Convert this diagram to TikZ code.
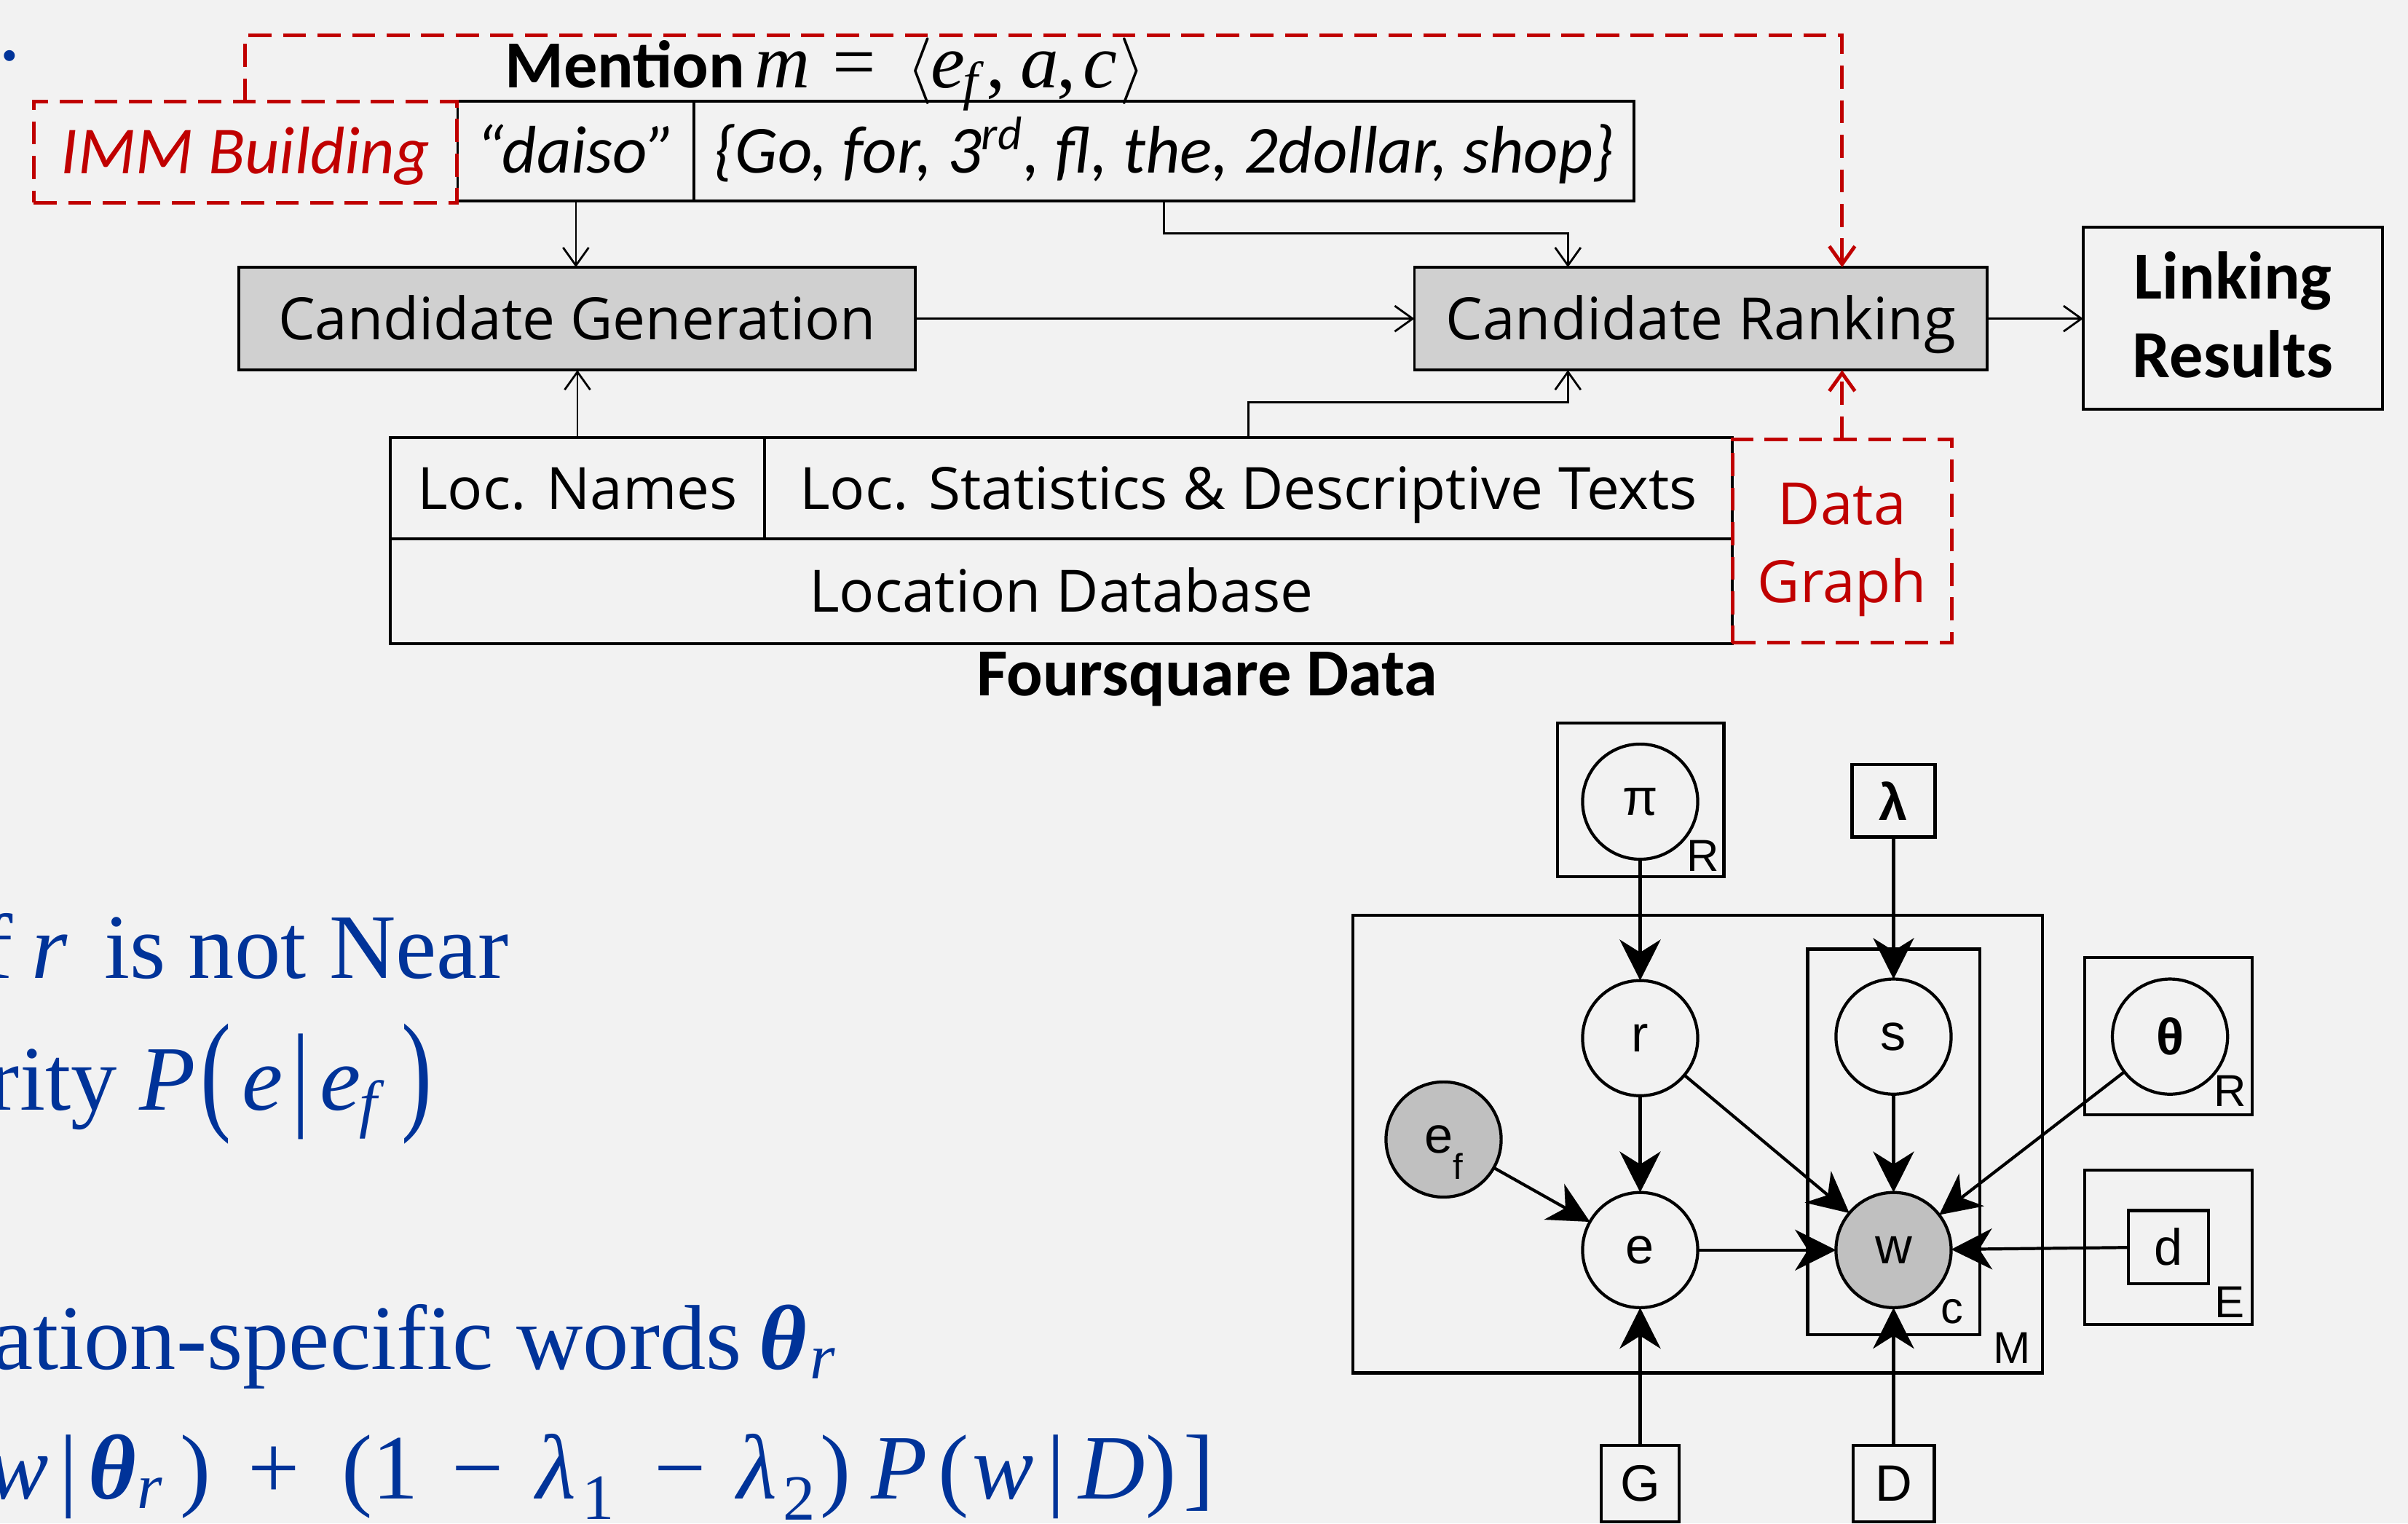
\documentclass[tikz,border=0pt]{standalone}
\usepackage{fontspec}
\usepackage{graphicx}
\usetikzlibrary{arrows.meta,calc}
\setmainfont{Liberation Serif}
\newfontfamily\opensans{Open Sans}
\newfontfamily\carlito{Carlito}
\newfontfamily\libserif{Liberation Serif}
\newfontfamily\libsans{Liberation Sans}
\definecolor{pagebg}{HTML}{F2F2F2}
\definecolor{darkred}{HTML}{C00000}
\definecolor{slideblue}{RGB}{0,51,153}
\definecolor{stagegray}{HTML}{D0D0D0}
\definecolor{obsgray}{HTML}{C0C0C0}
\newcommand\boxlabelfont{\opensans\fontsize{22.8}{27}\selectfont}
\newcommand\calibrifont{\carlito\fontsize{26.3}{30.8}\selectfont}
\newcommand\bluefont{\libserif\fontsize{36}{40}\selectfont}
\newcommand\gmfont{\libsans\fontsize{20}{22}\selectfont}
\newcommand\platefont{\libsans\fontsize{17.5}{18}\selectfont}
\newcommand\tallglyph[3]{\raisebox{#1}{\scalebox{1}[#2]{#3}}}
% place a piece of a formula at a fixed offset from the start of its line
\newcommand\putat[2]{\makebox[0pt][l]{\hspace*{#1}#2}}
\newcommand\bigangle[1]{\raisebox{-0.2pt}{\scalebox{2.6}{\normalsize$#1$}}}
\newcommand\lowsub[3]{\raisebox{#1}{\fontsize{#2}{#2}\selectfont #3}}
\begin{document}
\begin{tikzpicture}[x=0.021091cm, y=-0.021091cm,
  every node/.style={inner sep=0pt, outer sep=0pt},
  flowbox/.style={draw=black, line width=1.1pt, minimum height=40.2pt,
    text height=16.3pt, text depth=0pt, font=\boxlabelfont},
  stagebox/.style={flowbox, fill=stagegray},
  mentionbox/.style={draw=black, line width=1.1pt, minimum height=39pt,
    text height=16.9pt, text depth=0pt, font=\calibrifont\itshape},
  reddash/.style={draw=darkred, line width=1.4pt, dash pattern=on 9pt off 4.5pt},
  flow/.style={draw=black, line width=0.8pt, -{Straight Barb[length=7pt,width=10pt]}},
  redflow/.style={reddash, -{Straight Barb[length=7pt,width=10pt]}},
  plate/.style={draw=black, line width=1.2pt},
  hyperbox/.style={draw=black, line width=1.2pt, font=\gmfont},
  rv/.style={circle, draw=black, line width=1.2pt, minimum size=45pt, font=\gmfont},
  dep/.style={draw=black, line width=1.2pt, -{Stealth[length=16pt,width=16pt,inset=5pt]}},
  bluetext/.style={anchor=base west, text=slideblue, font=\bluefont}
]
\fill[pagebg] (0,0) rectangle (1568,992);
\useasboundingbox (0,0) rectangle (1568,992);

% ---------- pipeline ----------
\node[mentionbox, minimum width=92.4pt] (daiso) at (375,98.5) {“daiso”};
\node[mentionbox, minimum width=367.2pt] (words) at (758,98.5)
  {\{Go, for, 3\textsuperscript{rd}, fl, the, 2dollar, shop\}};
\node[reddash, minimum width=165.3pt, minimum height=39.6pt, text height=16.9pt,
  text depth=0pt, font=\calibrifont\itshape, text=darkred] (imm) at (159.75,99) {IMM Building};

\node[anchor=base west, font=\libserif\fontsize{30}{32}\selectfont] (mention) at (328,57)
  {\putat{0pt}{\calibrifont\bfseries Mention}%
   \putat{97.5pt}{\textit{m}}%
   \putat{128pt}{=}%
   \putat{157pt}{\bigangle{\langle}}%
   \putat{166.5pt}{\textit{e}}%
   \putat{179pt}{\lowsub{-4.5pt}{21}{\textit{f}}}%
   \putat{188pt}{,}%
   \putat{201.5pt}{\textit{a}}%
   \putat{215.5pt}{,}%
   \putat{226pt}{\textit{c}}%
   \putat{240pt}{\bigangle{\rangle}}};

\node[stagebox, minimum width=264.3pt] (cg) at (375.75,207.5) {Candidate Generation};
\node[stagebox, minimum width=223.8pt] (cr) at (1107.5,207.5) {Candidate Ranking};
\node[draw=black, line width=1.1pt, minimum width=117pt, minimum height=71.1pt] (lr) at (1454,207.25) {};
\node[anchor=base, font=\calibrifont\bfseries] (lrtext) at (1454,194.4)
  {\begin{tabular}[t]{@{}c@{}}Linking\\Results\end{tabular}};

\node[flowbox, minimum width=146.4pt, minimum height=39.6pt] (locnames) at (376,318) {Loc. Names};
\node[flowbox, minimum width=378pt, minimum height=39.6pt] (locstats) at (813,318)
  {Loc. Statistics \& Descriptive Texts};
\node[flowbox, minimum width=524.4pt, minimum height=40.8pt] (locdb) at (691,385) {Location Database};
\node[anchor=base, font=\calibrifont\bfseries] (fsq) at (786,453) {Foursquare Data};

\node[reddash, minimum width=85.8pt, minimum height=79.5pt] (dg) at (1199.5,352.25) {};
\node[anchor=base, text=darkred, font=\opensans\fontsize{22.8}{30.4}\selectfont] (dgtext) at (1199.5,341.5)
  {\begin{tabular}[t]{@{}c@{}}Data\\Graph\end{tabular}};

\coordinate (crtopin) at ($(cr.north west)!0.268!(cr.north east)$);
\coordinate (crbotin) at ($(cr.south west)!0.268!(cr.south east)$);

\draw[flow] (daiso.south) -- (daiso.south |- cg.north);
\draw[flow] (words.south) -- ++(0,21) -| (crtopin);
\draw[flow] (cg.east) -- (cr.west);
\draw[flow] (cr.east) -- (cr.east -| lr.west);
\draw[flow] (locnames.north) -- (locnames.north |- cg.south);
\draw[flow] (locstats.north) -- ++(0,-23) -| (crbotin);
\draw[redflow] (imm.north) -- ++(0,-43) -| (dg.north |- cr.north);
\draw[redflow] (dg.north) -- (dg.north |- cr.south);

% ---------- slide text ----------
\node[bluetext] (dotmark) at (-1,39) {.};
\node[bluetext] (lineA) at (0,637)
  {\putat{-7.5pt}{f}\putat{12pt}{\textit{r}}\putat{40.2pt}{is not Near}};
\node[bluetext] (lineB) at (0,722.6)
  {\putat{-4.8pt}{rity}%
   \putat{54pt}{\textit{P}}%
   \putat{78pt}{\tallglyph{-0.065em}{1.44}{(}}%
   \putat{94pt}{\textit{e}}%
   \putat{113.5pt}{\tallglyph{-0.05em}{1.26}{|}}%
   \putat{124.5pt}{\textit{e}}%
   \putat{140pt}{\lowsub{-6pt}{25}{\textit{f}}}%
   \putat{156.5pt}{\tallglyph{-0.065em}{1.44}{)}}};
\node[bluetext] (lineC) at (0,891.6)
  {\putat{-3.6pt}{ation-specific words}%
   \putat{296pt}{\textbf{\textit{θ}}}%
   \putat{316pt}{\textsubscript{\textit{r}}}};
\node[bluetext] (lineD) at (0,976)
  {\putat{-5.4pt}{\textit{w}}%
   \putat{22.8pt}{|}%
   \putat{34pt}{\textbf{\textit{θ}}}%
   \putat{53pt}{\textsubscript{\textit{r}}}%
   \putat{70pt}{)}%
   \putat{96.5pt}{+}%
   \putat{133pt}{(}%
   \putat{145pt}{1}%
   \putat{176pt}{−}%
   \putat{209pt}{\textit{λ}}%
   \putat{227pt}{\textsubscript{1}}%
   \putat{255pt}{−}%
   \putat{287.5pt}{\textit{λ}}%
   \putat{305.5pt}{\textsubscript{2}}%
   \putat{320pt}{)}%
   \putat{340pt}{\textit{P}}%
   \putat{366pt}{(}%
   \putat{379.5pt}{\textit{w}}%
   \putat{408.5pt}{|}%
   \putat{421pt}{\textit{D}}%
   \putat{447pt}{)}%
   \putat{462pt}{]}};

% ---------- graphical model ----------
\node[plate, minimum width=65.1pt, minimum height=60pt] (piplate) at (1068.25,521) {};
\node[plate, minimum width=269.4pt, minimum height=178.8pt] (Mplate) at (1105.5,745) {};
\node[plate, minimum width=67.2pt, minimum height=150.6pt] (cplate) at (1233,743.5) {};
\node[plate, minimum width=65.4pt, minimum height=61.5pt] (thplate) at (1412,674.75) {};
\node[plate, minimum width=65.4pt, minimum height=60.3pt] (Eplate) at (1412,812.25) {};

\node[rv] (pi) at (1068,522) {π};
\node[hyperbox, minimum width=32.4pt, minimum height=28.2pt, font=\gmfont\bfseries] (lam) at (1233,521.5) {λ};
\node[rv] (r) at (1068,676) {r};
\node[rv] (s) at (1233,675) {s};
\node[rv, font=\gmfont\bfseries] (theta) at (1413,675) {θ};
\node[rv, fill=obsgray, text depth=0pt] (ef) at (940,742)
  {e\raisebox{-10pt}{\fontsize{14}{14}\selectfont f}};
\node[rv] (e) at (1068,814) {e};
\node[rv, fill=obsgray] (w) at (1233,814) {w};
\node[hyperbox, minimum width=31.2pt, minimum height=28.5pt] (d) at (1412,812) {d};
\node[hyperbox, minimum width=30.6pt, minimum height=30pt] (G) at (1068,966) {G};
\node[hyperbox, minimum width=31.8pt, minimum height=30pt] (D) at (1233,966) {D};

\node[font=\platefont] (piR) at (1109,557.5) {R};
\node[font=\platefont] (thR) at (1452,710.5) {R};
\node[font=\platefont] (Elab) at (1452,848) {E};
\node[font=\platefont] (clab) at (1271,854) {c};
\node[font=\platefont] (Mlab) at (1310,878) {M};

\draw[dep] (pi) -- (r);
\draw[dep] (lam) -- (s);
\draw[dep] (r) -- (e);
\draw[dep] (r) -- (w);
\draw[dep] (s) -- (w);
\draw[dep] (theta) -- (w);
\draw[dep] (ef) -- (e);
\draw[dep] (e) -- (w);
\draw[dep] (d) -- (w);
\draw[dep] (G) -- (e);
\draw[dep] (D) -- (w);
\end{tikzpicture}
\end{document}
